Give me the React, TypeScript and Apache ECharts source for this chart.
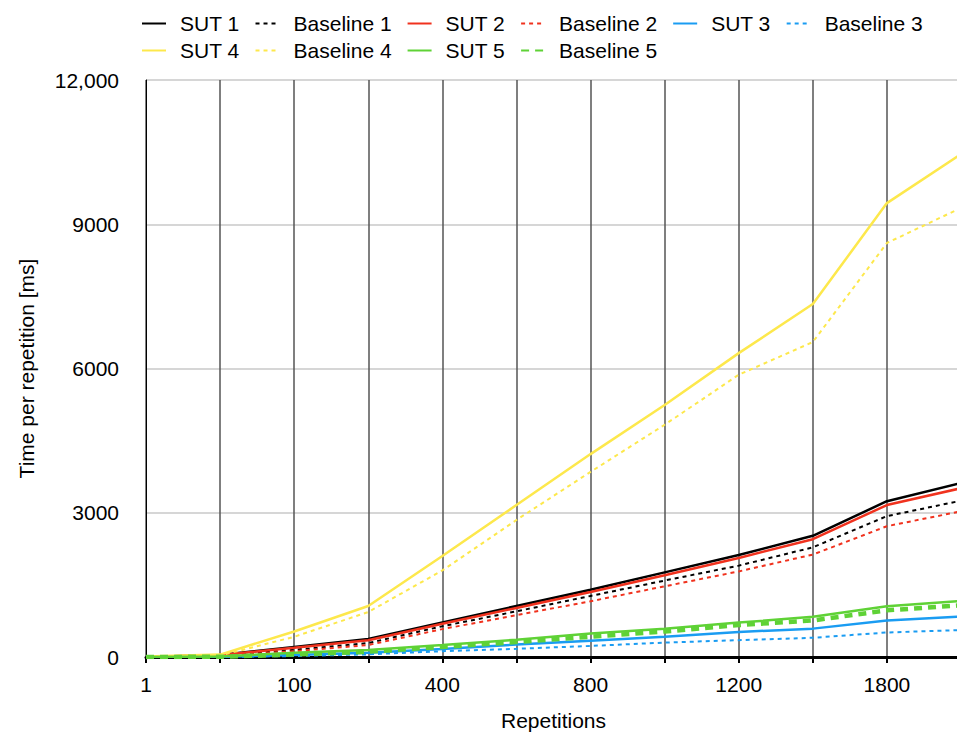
import React, { useEffect, useRef } from "react";
import * as echarts from "echarts";

const categories = ["1", "50", "100", "200", "400", "600", "800", "1000", "1200", "1500", "1800", "2000"];
const sut1 = [0, 40, 210, 375, 720, 1060, 1400, 1760, 2120, 2520, 3240, 3620];
const baseline1 = [0, 20, 150, 290, 640, 950, 1270, 1590, 1900, 2280, 2930, 3250];
const sut2 = [0, 40, 190, 350, 690, 1020, 1350, 1700, 2060, 2450, 3160, 3510];
const baseline2 = [0, 15, 120, 250, 580, 870, 1160, 1470, 1780, 2130, 2720, 3030];
const sut3 = [0, 5, 40, 90, 165, 260, 340, 420, 520, 590, 760, 840];
const baseline3 = [0, 0, 20, 55, 120, 170, 230, 300, 350, 400, 510, 560];
const sut4 = [10, 50, 530, 1060, 2100, 3160, 4220, 5240, 6320, 7340, 9440, 10460];
const baseline4 = [5, 30, 420, 935, 1800, 2850, 3850, 4830, 5870, 6550, 8610, 9340];
const sut5 = [0, 10, 90, 145, 250, 360, 490, 590, 715, 835, 1055, 1165];
const baseline5 = [0, 5, 50, 110, 210, 310, 420, 530, 665, 760, 970, 1075];
const yTicks = [0, 3000, 6000, 9000, 12000];

const BLACK = "#000000";
const RED = "#f0321e";
const BLUE = "#1a9cf2";
const YELLOW = "#fde84c";
const GREEN = "#5fd236";
const FONT = "'Liberation Sans', Helvetica, Arial, sans-serif";

function mk(name: string, data: number[], color: string, dashed: boolean, width = 2, dash: number[] = [4, 4]) {
  return {
    name,
    type: "line",
    data,
    symbol: "none",
    showSymbol: false,
    color,
    itemStyle: { color, opacity: 0 },
    lineStyle: { color, width, type: dashed ? dash : "solid" },
    z: 3,
  };
}

export default function App() {
  const ref = useRef<HTMLDivElement>(null);
  useEffect(() => {
    if (!ref.current) return;
    const chart = echarts.init(ref.current, null, { renderer: "svg" });
    const legendCommon = {
      left: 136,
      itemWidth: 24,
      itemHeight: 14,
      itemGap: 15,
      itemStyle: { opacity: 0 },
      textStyle: { fontSize: 21, color: "#000", fontFamily: FONT, padding: [0, 0, 0, 9] },
    };
    chart.setOption({
      animation: false,
      backgroundColor: "#ffffff",
      textStyle: { fontFamily: FONT },
      legend: [
        { ...legendCommon, top: 8, data: ["SUT 1", "Baseline 1", "SUT 2", "Baseline 2", "SUT 3", "Baseline 3"] },
        { ...legendCommon, top: 35, data: ["SUT 4", "Baseline 4", "SUT 5", "Baseline 5"] },
      ],
      grid: { left: 146, right: -4, top: 80, bottom: 78, containLabel: false, outerBoundsMode: "none" },
      xAxis: {
        type: "category",
        data: categories,
        boundaryGap: false,
        name: "Repetitions",
        nameLocation: "middle",
        nameGap: 53,
        nameTextStyle: { fontSize: 21, color: "#000", fontFamily: FONT },
        axisLine: { lineStyle: { color: "#000", width: 3 } },
        axisTick: { show: true, interval: 0, length: 6, lineStyle: { color: "#000", width: 2 } },
        axisLabel: { interval: 1, fontSize: 21, color: "#000", margin: 17, fontFamily: FONT },
        splitLine: { show: true, interval: 0, lineStyle: { color: "#555555", width: 1.5 } },
      },
      yAxis: {
        type: "value",
        min: 0,
        max: 12000,
        interval: 3000,
        name: "Time per repetition [ms]",
        nameLocation: "middle",
        nameGap: 109,
        nameTextStyle: { fontSize: 21, color: "#000", fontFamily: FONT },
        axisLine: { show: true, lineStyle: { color: "#000", width: 1 } },
        axisTick: { show: false },
        axisLabel: {
          fontSize: 21,
          color: "#000",
          margin: 27,
          fontFamily: FONT,
          formatter: (v: number) => (yTicks.includes(v) && v >= 10000 ? v.toLocaleString("en-US") : String(v)),
        },
        splitLine: { show: true, lineStyle: { color: "#c8c8c8", width: 1.5 } },
      },
      series: [
        mk("SUT 1", sut1, BLACK, false, 2.5),
        mk("Baseline 1", baseline1, BLACK, true),
        mk("SUT 2", sut2, RED, false, 2.5),
        mk("Baseline 2", baseline2, RED, true),
        mk("SUT 3", sut3, BLUE, false, 2.5),
        mk("Baseline 3", baseline3, BLUE, true),
        mk("SUT 4", sut4, YELLOW, false, 2.5),
        mk("Baseline 4", baseline4, YELLOW, true),
        mk("SUT 5", sut5, GREEN, false, 2.5),
        mk("Baseline 5", baseline5, GREEN, true, 4.5, [8, 6]),
      ],
    });
    return () => chart.dispose();
  }, []);
  return (
    <div
      ref={ref}
      style={{ position: "fixed", left: 0, top: 0, width: 957, height: 735, background: "#fff" }}
    />
  );
}
